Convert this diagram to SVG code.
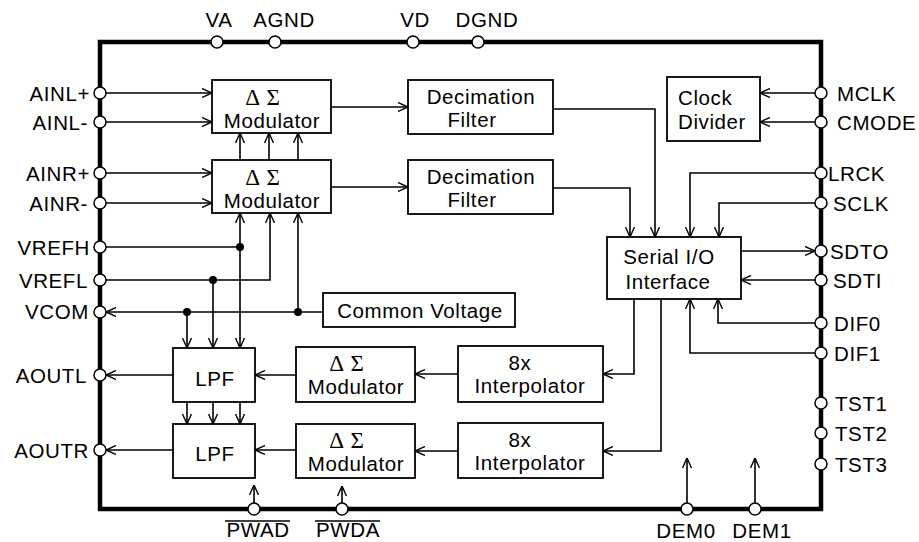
<svg xmlns="http://www.w3.org/2000/svg" width="919" height="542" viewBox="0 0 919 542">
<style>
.t{font-family:"Liberation Sans",Arial,Helvetica,sans-serif;font-size:20.5px;letter-spacing:0.6px;fill:#000}
.g{font-family:"Liberation Serif","Times New Roman",serif;font-size:23px;letter-spacing:1px;fill:#000}
.m{text-anchor:middle}
.e{text-anchor:end}
.box{fill:#fff;stroke:#000;stroke-width:1.8}
.c{fill:none;stroke:#000;stroke-width:1.6}
.a{marker-end:url(#ah)}
.pin{fill:#fff;stroke:#000;stroke-width:1.5}
.dot{fill:#000}
.ol{stroke:#000;stroke-width:1.5}
</style>
<defs>
<marker id="ah" viewBox="0 0 10 10" refX="10" refY="5" markerWidth="10" markerHeight="10" markerUnits="userSpaceOnUse" orient="auto">
<path d="M0,0.5 L10,5 L0,9.5" fill="none" stroke="#000" stroke-width="1.4"/>
</marker>
</defs>
<rect width="919" height="542" fill="#fff"/>

<g id="connectors">
<path class="c a" d="M106,93 H212"/>
<path class="c a" d="M106,122 H212"/>
<path class="c a" d="M106,173 H212"/>
<path class="c a" d="M106,203 H212"/>
<path class="c a" d="M331,107 H408"/>
<path class="c a" d="M331,187 H408"/>
<path class="c a" d="M240,160 V133"/>
<path class="c a" d="M269,160 V133"/>
<path class="c a" d="M298,160 V133"/>
<path class="c" d="M106,247 H240"/>
<path class="c a" d="M240,247 V213"/>
<path class="c a" d="M240,247 V348"/>
<path class="c a" d="M106,280 H270 V213"/>
<path class="c a" d="M213,280 V348"/>
<path class="c a" d="M323,312 H106"/>
<path class="c a" d="M298,312 V213"/>
<path class="c a" d="M187,312 V348"/>
<path class="c a" d="M187,402 V424"/>
<path class="c a" d="M213,402 V424"/>
<path class="c a" d="M240,402 V424"/>
<path class="c a" d="M173,375 H106"/>
<path class="c a" d="M173,450 H106"/>
<path class="c a" d="M296,375 H255"/>
<path class="c a" d="M296,450 H255"/>
<path class="c a" d="M458,374 H415"/>
<path class="c a" d="M458,451 H415"/>
<path class="c a" d="M634,299 V374 H603"/>
<path class="c a" d="M661,299 V451 H603"/>
<path class="c a" d="M553,109 H655 V237"/>
<path class="c a" d="M553,188 H630 V237"/>
<path class="c a" d="M815,173 H690 V237"/>
<path class="c a" d="M815,203 H719 V237"/>
<path class="c a" d="M741,251 H815"/>
<path class="c a" d="M815,280 H741"/>
<path class="c a" d="M815,323 H718 V299"/>
<path class="c a" d="M815,353 H690 V299"/>
<path class="c a" d="M815,93 H760"/>
<path class="c a" d="M815,122 H760"/>
<path class="c a" d="M254,503 V485"/>
<path class="c a" d="M342,503 V486"/>
<path class="c a" d="M687,503 V458"/>
<path class="c a" d="M755,503 V458"/>
<circle class="dot" cx="240" cy="247" r="4"/>
<circle class="dot" cx="213" cy="280" r="4"/>
<circle class="dot" cx="187" cy="312" r="4"/>
<circle class="dot" cx="298" cy="312" r="4"/>
</g>

<g id="adc-mod-l">
<rect class="box" x="212" y="80" width="119" height="53"/>
<text class="g m" x="263" y="105">Δ Σ</text>
<text class="t m" x="272" y="128">Modulator</text>
</g>
<g id="adc-mod-r">
<rect class="box" x="212" y="160" width="119" height="53"/>
<text class="g m" x="263" y="185">Δ Σ</text>
<text class="t m" x="272" y="208">Modulator</text>
</g>
<g id="dec-l">
<rect class="box" x="408" y="80" width="145" height="54"/>
<text class="t m" x="481" y="104">Decimation</text>
<text class="t m" x="472" y="127">Filter</text>
</g>
<g id="dec-r">
<rect class="box" x="408" y="160" width="145" height="54"/>
<text class="t m" x="481" y="184">Decimation</text>
<text class="t m" x="472" y="207">Filter</text>
</g>
<g id="clock-divider">
<rect class="box" x="667" y="77" width="93" height="64"/>
<text class="t" x="678" y="105">Clock</text>
<text class="t" x="678" y="129">Divider</text>
</g>
<g id="serial-io">
<rect class="box" x="607" y="237" width="134" height="62"/>
<text class="t m" x="669" y="264">Serial I/O</text>
<text class="t m" x="668" y="289">Interface</text>
</g>
<g id="common-voltage">
<rect class="box" x="323" y="293" width="192" height="34"/>
<text class="t m" x="420" y="318">Common Voltage</text>
</g>
<g id="lpf-l">
<rect class="box" x="173" y="348" width="82" height="54"/>
<text class="t m" x="215" y="386">LPF</text>
</g>
<g id="lpf-r">
<rect class="box" x="173" y="424" width="82" height="54"/>
<text class="t m" x="215" y="461">LPF</text>
</g>
<g id="dac-mod-l">
<rect class="box" x="296" y="347" width="119" height="55"/>
<text class="g m" x="347" y="371">Δ Σ</text>
<text class="t m" x="356" y="394">Modulator</text>
</g>
<g id="dac-mod-r">
<rect class="box" x="296" y="424" width="119" height="54"/>
<text class="g m" x="347" y="448">Δ Σ</text>
<text class="t m" x="356" y="471">Modulator</text>
</g>
<g id="interp-l">
<rect class="box" x="458" y="346" width="145" height="56"/>
<text class="t m" x="520" y="370">8x</text>
<text class="t m" x="530" y="393">Interpolator</text>
</g>
<g id="interp-r">
<rect class="box" x="458" y="423" width="145" height="55"/>
<text class="t m" x="520" y="447">8x</text>
<text class="t m" x="530" y="470">Interpolator</text>
</g>

<g id="chip">
<rect x="100" y="42" width="721" height="467" fill="none" stroke="#000" stroke-width="4.5"/>
</g>

<g id="pins">
<circle class="pin" cx="217" cy="42" r="6"/><text class="t m" x="219" y="27">VA</text>
<circle class="pin" cx="275" cy="42" r="6"/><text class="t m" x="284" y="27">AGND</text>
<circle class="pin" cx="413" cy="42" r="6"/><text class="t m" x="415" y="27">VD</text>
<circle class="pin" cx="478" cy="42" r="6"/><text class="t m" x="487" y="27">DGND</text>

<circle class="pin" cx="100" cy="93" r="6"/><text class="t e" x="90" y="101">AINL+</text>
<circle class="pin" cx="100" cy="122" r="6"/><text class="t e" x="88" y="130">AINL-</text>
<circle class="pin" cx="100" cy="173" r="6"/><text class="t e" x="90" y="181">AINR+</text>
<circle class="pin" cx="100" cy="203" r="6"/><text class="t e" x="88" y="211">AINR-</text>
<circle class="pin" cx="100" cy="247" r="6"/><text class="t e" x="90" y="255">VREFH</text>
<circle class="pin" cx="100" cy="280" r="6"/><text class="t e" x="88" y="288">VREFL</text>
<circle class="pin" cx="100" cy="312" r="6"/><text class="t e" x="89" y="319">VCOM</text>
<circle class="pin" cx="100" cy="375" r="6"/><text class="t e" x="87" y="383">AOUTL</text>
<circle class="pin" cx="100" cy="450" r="6"/><text class="t e" x="89" y="458">AOUTR</text>

<circle class="pin" cx="821" cy="93" r="6"/><text class="t" x="837" y="101">MCLK</text>
<circle class="pin" cx="821" cy="122" r="6"/><text class="t" x="837" y="130">CMODE</text>
<circle class="pin" cx="821" cy="173" r="6"/><text class="t" x="828" y="181">LRCK</text>
<circle class="pin" cx="821" cy="203" r="6"/><text class="t" x="833" y="211">SCLK</text>
<circle class="pin" cx="821" cy="251" r="6"/><text class="t" x="830" y="259">SDTO</text>
<circle class="pin" cx="821" cy="280" r="6"/><text class="t" x="833" y="288">SDTI</text>
<circle class="pin" cx="821" cy="323" r="6"/><text class="t" x="834" y="331">DIF0</text>
<circle class="pin" cx="821" cy="353" r="6"/><text class="t" x="834" y="361">DIF1</text>
<circle class="pin" cx="821" cy="403" r="6"/><text class="t" x="835" y="411">TST1</text>
<circle class="pin" cx="821" cy="433" r="6"/><text class="t" x="835" y="441">TST2</text>
<circle class="pin" cx="821" cy="464" r="6"/><text class="t" x="835" y="472">TST3</text>

<circle class="pin" cx="254" cy="509" r="6"/><text class="t m" x="258" y="537">PWAD</text>
<line class="ol" x1="225" y1="521" x2="290" y2="521"/>
<circle class="pin" cx="342" cy="509" r="6"/><text class="t m" x="348" y="537">PWDA</text>
<line class="ol" x1="315" y1="521" x2="380" y2="521"/>
<circle class="pin" cx="687" cy="509" r="6"/><text class="t m" x="686" y="538">DEM0</text>
<circle class="pin" cx="755" cy="509" r="6"/><text class="t m" x="762" y="538">DEM1</text>
</g>
</svg>
